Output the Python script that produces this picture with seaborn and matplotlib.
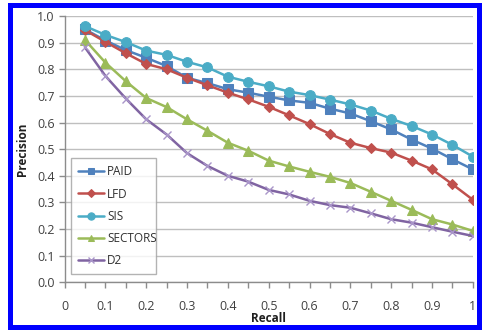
import matplotlib
matplotlib.use("Agg")
import matplotlib.pyplot as plt
import seaborn as sns
import pandas as pd
import numpy as np
from matplotlib.patches import Rectangle

recall = [0.05, 0.10, 0.15, 0.20, 0.25, 0.30, 0.35, 0.40, 0.45, 0.50,
          0.55, 0.60, 0.65, 0.70, 0.75, 0.80, 0.85, 0.90, 0.95, 1.00]
paid = [0.950, 0.908, 0.872, 0.843, 0.812, 0.768, 0.748, 0.725, 0.712, 0.697,
        0.683, 0.674, 0.652, 0.634, 0.605, 0.574, 0.536, 0.502, 0.462, 0.424]
lfd = [0.947, 0.903, 0.860, 0.820, 0.800, 0.768, 0.740, 0.712, 0.687, 0.659,
       0.627, 0.594, 0.557, 0.524, 0.504, 0.487, 0.457, 0.424, 0.368, 0.310]
sis = [0.962, 0.929, 0.902, 0.870, 0.854, 0.828, 0.807, 0.772, 0.753, 0.736,
       0.716, 0.703, 0.686, 0.668, 0.645, 0.614, 0.587, 0.555, 0.516, 0.472]
sectors = [0.910, 0.825, 0.755, 0.692, 0.658, 0.612, 0.569, 0.524, 0.494, 0.457,
           0.435, 0.415, 0.396, 0.373, 0.340, 0.306, 0.272, 0.237, 0.217, 0.193]
d2 = [0.882, 0.775, 0.690, 0.612, 0.555, 0.485, 0.437, 0.400, 0.378, 0.347,
      0.330, 0.306, 0.290, 0.280, 0.259, 0.237, 0.224, 0.207, 0.190, 0.174]

series_names = ["PAID", "LFD", "SIS", "SECTORS", "D2"]
series_values = [paid, lfd, sis, sectors, d2]
colors = ["#4F81BD", "#C0504D", "#4BACC6", "#9BBB59", "#8064A2"]
markers = ["s", "D", "o", "^", "x"]
msizes = [6.5, 5, 7, 6.5, 6]

x_ticks = [0, 0.1, 0.2, 0.3, 0.4, 0.5, 0.6, 0.7, 0.8, 0.9, 1.0]
x_ticklabels = ["0", "0.1", "0.2", "0.3", "0.4", "0.5", "0.6", "0.7", "0.8", "0.9", "1"]
y_ticks = [0.0, 0.1, 0.2, 0.3, 0.4, 0.5, 0.6, 0.7, 0.8, 0.9, 1.0]

df = pd.DataFrame({"Recall": recall * len(series_names),
                   "Precision": sum(series_values, []),
                   "Method": np.repeat(series_names, len(recall))})

sns.set_theme(style="white")
plt.rcParams["font.family"] = ["Open Sans", "DejaVu Sans"]

fig = plt.figure(figsize=(4.83, 3.30), dpi=100)
fig.patch.set_facecolor("white")
ax = fig.add_axes([0.1337, 0.1445, 0.8453, 0.807])

for name, col, mk, ms in zip(series_names, colors, markers, msizes):
    sub = df[df["Method"] == name]
    kw = dict(markeredgecolor=col, markerfacecolor=col)
    if mk == "x":
        kw = dict(markeredgecolor="#A995C9", markeredgewidth=1.0)
    sns.lineplot(data=sub, x="Recall", y="Precision", ax=ax, color=col,
                 marker=mk, markersize=ms, linewidth=1.8, label=name, **kw)

ax.set_xlim(0, 1.0)
ax.set_ylim(0, 1.0)
ax.set_xticks(x_ticks)
ax.set_xticklabels(x_ticklabels)
ax.set_xticks(np.arange(0.05, 1.0, 0.1), minor=True)
ax.set_yticks(y_ticks)
ax.set_yticklabels([f"{v:.1f}" for v in y_ticks])
ax.yaxis.grid(True, color="#BFBFBF", linewidth=1.0)
ax.xaxis.grid(False)
ax.set_axisbelow(True)
for s in ["top", "right"]:
    ax.spines[s].set_visible(False)
for s in ["left", "bottom"]:
    ax.spines[s].set_color("#8C8C8C")
    ax.spines[s].set_linewidth(1.0)
ax.tick_params(axis="both", which="both", direction="out", color="#8C8C8C",
               labelsize=9, labelcolor="#404040")
ax.tick_params(axis="x", which="both", length=4, width=1, pad=9, bottom=True)
ax.tick_params(axis="y", which="both", length=4, width=1, pad=3, left=True)

ax.set_xlabel("Recall", fontsize=8.5, fontweight="bold", color="#202020", labelpad=-1)
ax.set_ylabel("Precision", fontsize=8.5, fontweight="bold", color="#202020", labelpad=6)

leg = ax.legend(loc="lower left", bbox_to_anchor=(0.0157, 0.03, 0.208, 0.44),
                mode="expand", frameon=True, fancybox=False, fontsize=8.5,
                handlelength=2.2, handletextpad=0.25, labelspacing=0.78,
                borderpad=0.6, borderaxespad=0, markerscale=0.75)
leg.get_frame().set_edgecolor("#A0A0A0")
leg.get_frame().set_linewidth(1.0)
for t in leg.get_texts():
    t.set_color("#303030")

fig.patches.append(Rectangle((0.0197, 0.0106), 0.971, 0.973, transform=fig.transFigure,
                             fill=False, edgecolor="#0000FF", linewidth=3.6))

fig.savefig("out.png", dpi=100, facecolor="white")
